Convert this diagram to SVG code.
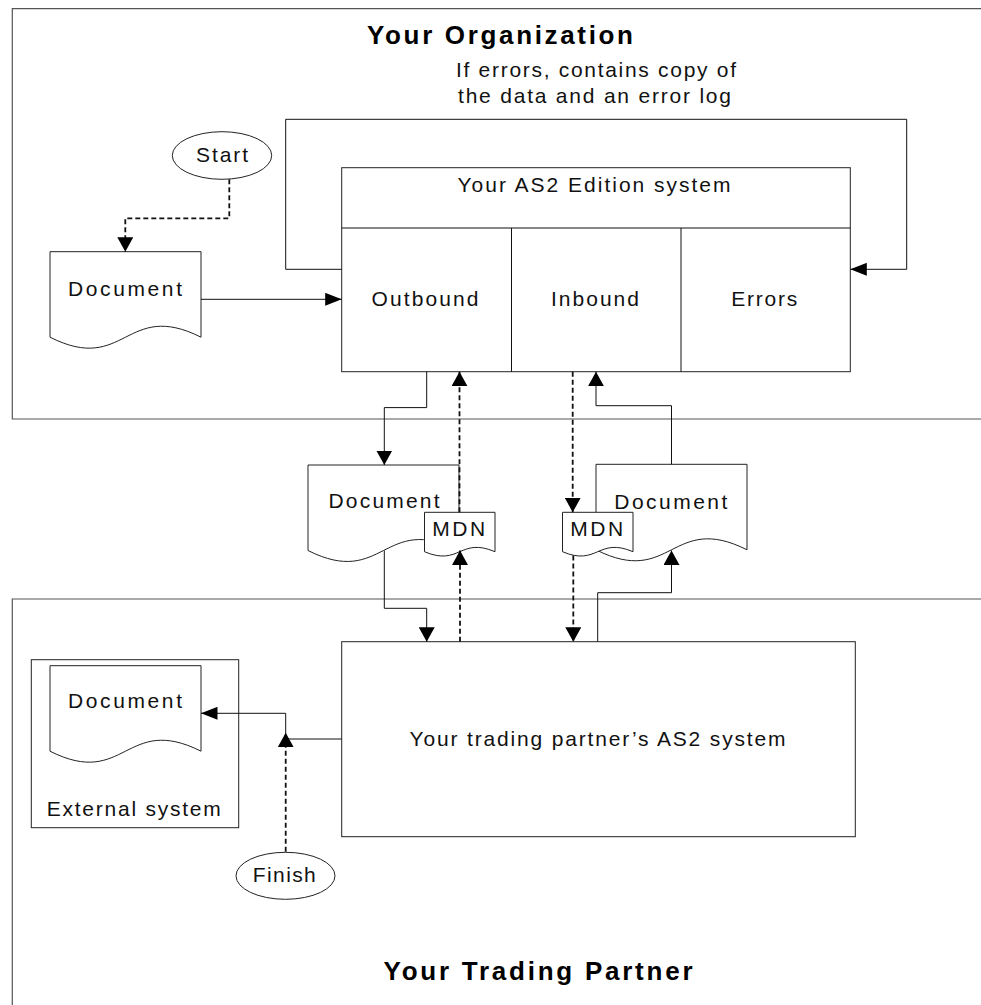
<svg xmlns="http://www.w3.org/2000/svg" width="981" height="1005" viewBox="0 0 981 1005">
<style>
.cont{fill:none;stroke:#555;stroke-width:1.2}
.box{fill:#fff;stroke:#222;stroke-width:1}
.t{font-family:"Liberation Sans",Arial,sans-serif;font-size:21px;fill:#111;text-anchor:middle}
.tb{font-family:"Liberation Sans",Arial,sans-serif;font-size:26px;font-weight:bold;fill:#000;text-anchor:middle}
.c{fill:none;stroke:#111;stroke-width:1}
.d{fill:none;stroke:#111;stroke-width:1.8;stroke-dasharray:5,3}
</style>
<defs>
<marker id="ah" markerUnits="userSpaceOnUse" markerWidth="17" markerHeight="13" refX="16.5" refY="6.5" orient="auto" viewBox="0 0 17 13"><path d="M0,0 L16.5,6.5 L0,13 Z" fill="#000"/></marker>
<marker id="av" markerUnits="userSpaceOnUse" markerWidth="15" markerHeight="16" refX="14.5" refY="8" orient="auto" viewBox="0 0 15 16"><path d="M0,0 L14.5,8 L0,16 Z" fill="#000"/></marker>
</defs>
<rect width="981" height="1005" fill="#fff"/>

<g id="org-container">
<path class="cont" d="M981,8.7 H12.3 V419 H981"/>
<text class="tb" x="500" y="44" textLength="266" lengthAdjust="spacing">Your Organization</text>
</g>
<g id="partner-container">
<path class="cont" d="M981,599 H12.3 V1005"/>
<text class="tb" x="538" y="980" textLength="309" lengthAdjust="spacing">Your Trading Partner</text>
</g>

<g id="error-note">
<text class="t" x="596" y="77" textLength="280" lengthAdjust="spacing">If errors, contains copy of</text>
<text class="t" x="594.5" y="103" textLength="273" lengthAdjust="spacing">the data and an error log</text>
</g>

<g id="as2-edition">
<rect class="box" x="341.7" y="167.7" width="508.6" height="204"/>
<path class="c" d="M341.7,228 H850.3 M511.5,228 V371.7 M681,228 V371.7"/>
<text class="t" x="594" y="192.3" textLength="273" lengthAdjust="spacing">Your AS2 Edition system</text>
<text class="t" x="425" y="306" textLength="107" lengthAdjust="spacing">Outbound</text>
<text class="t" x="595" y="306" textLength="88" lengthAdjust="spacing">Inbound</text>
<text class="t" x="764.3" y="306" textLength="66" lengthAdjust="spacing">Errors</text>
</g>

<g id="start">
<ellipse class="box" cx="222" cy="155.5" rx="49.7" ry="23.8"/>
<text class="t" x="222" y="162.3" textLength="52" lengthAdjust="spacing">Start</text>
</g>

<g id="doc-source">
<path class="box" d="M50,251.7 H201 V337.2 C125.5,299.2 125.5,375.2 50,337.2 Z"/>
<text class="t" x="125" y="296" textLength="114" lengthAdjust="spacing">Document</text>
</g>

<g id="doc-outbound">
<path class="box" d="M308,465 H459 V550.5 C383.5,512.5 383.5,588.5 308,550.5 Z"/>
<text class="t" x="384" y="508.3" textLength="111" lengthAdjust="spacing">Document</text>
</g>

<g id="doc-inbound">
<path class="box" d="M596,464.3 H747 V549.8 C671.5,511.8 671.5,587.8 596,549.8 Z"/>
<text class="t" x="670.8" y="509" textLength="113" lengthAdjust="spacing">Document</text>
</g>

<g id="mdn-in">
<path class="box" d="M424.5,512.3 H495 V551.7 C459.75,536.7 459.75,566.7 424.5,551.7 Z"/>
<text class="t" x="458.7" y="536.3" textLength="53" lengthAdjust="spacing">MDN</text>
</g>

<g id="mdn-out">
<path class="box" d="M562.5,512.3 H633 V551.7 C597.75,536.7 597.75,566.7 562.5,551.7 Z"/>
<text class="t" x="596.7" y="536.3" textLength="53" lengthAdjust="spacing">MDN</text>
</g>

<g id="partner-as2">
<rect class="box" x="341.7" y="641.7" width="513.6" height="195"/>
<text class="t" x="597.5" y="745.5" textLength="376" lengthAdjust="spacing">Your trading partner’s AS2 system</text>
</g>

<g id="external-system">
<rect class="box" x="31.3" y="659.7" width="207.4" height="168"/>
<path class="box" d="M50,665.7 H201 V751.2 C125.5,713.2 125.5,789.2 50,751.2 Z"/>
<text class="t" x="125" y="708.3" textLength="114" lengthAdjust="spacing">Document</text>
<text class="t" x="133.7" y="816" textLength="174" lengthAdjust="spacing">External system</text>
</g>

<g id="finish">
<ellipse class="box" cx="285.5" cy="875.8" rx="49.5" ry="23.5"/>
<text class="t" x="284.3" y="882.3" textLength="63" lengthAdjust="spacing">Finish</text>
</g>

<g id="connectors">
<path class="d" d="M229.3,179.3 V218.3 H125.3 V251.7" marker-end="url(#av)"/>
<path class="c" d="M201,299.3 H341.7" marker-end="url(#ah)"/>
<path class="c" d="M341.7,269.3 H285.7 V119.3 H906.7 V269.3 H850.3" marker-end="url(#ah)"/>
<path class="c" d="M426.7,371.7 V407.6 H384.3 V465" marker-end="url(#av)"/>
<path class="d" d="M459.5,512.3 V371.7" marker-end="url(#av)"/>
<path class="d" d="M572.7,371.7 V512.3" marker-end="url(#av)"/>
<path class="c" d="M671.5,464.3 V405.7 H596 V371.7" marker-end="url(#av)"/>
<path class="c" d="M384.3,550.5 V608.3 H426.7 V641.7" marker-end="url(#av)"/>
<path class="d" d="M460,641.7 V550.5" marker-end="url(#av)"/>
<path class="d" d="M573.3,555.5 V641.7" marker-end="url(#av)"/>
<path class="c" d="M597.7,641.7 V592.7 H671.5 V550.5" marker-end="url(#av)"/>
<path class="c" d="M341.7,739 H285.7 V713.3 H201" marker-end="url(#ah)"/>
<path class="d" d="M285.7,851.7 V732.7" marker-end="url(#av)"/>
</g>
</svg>
